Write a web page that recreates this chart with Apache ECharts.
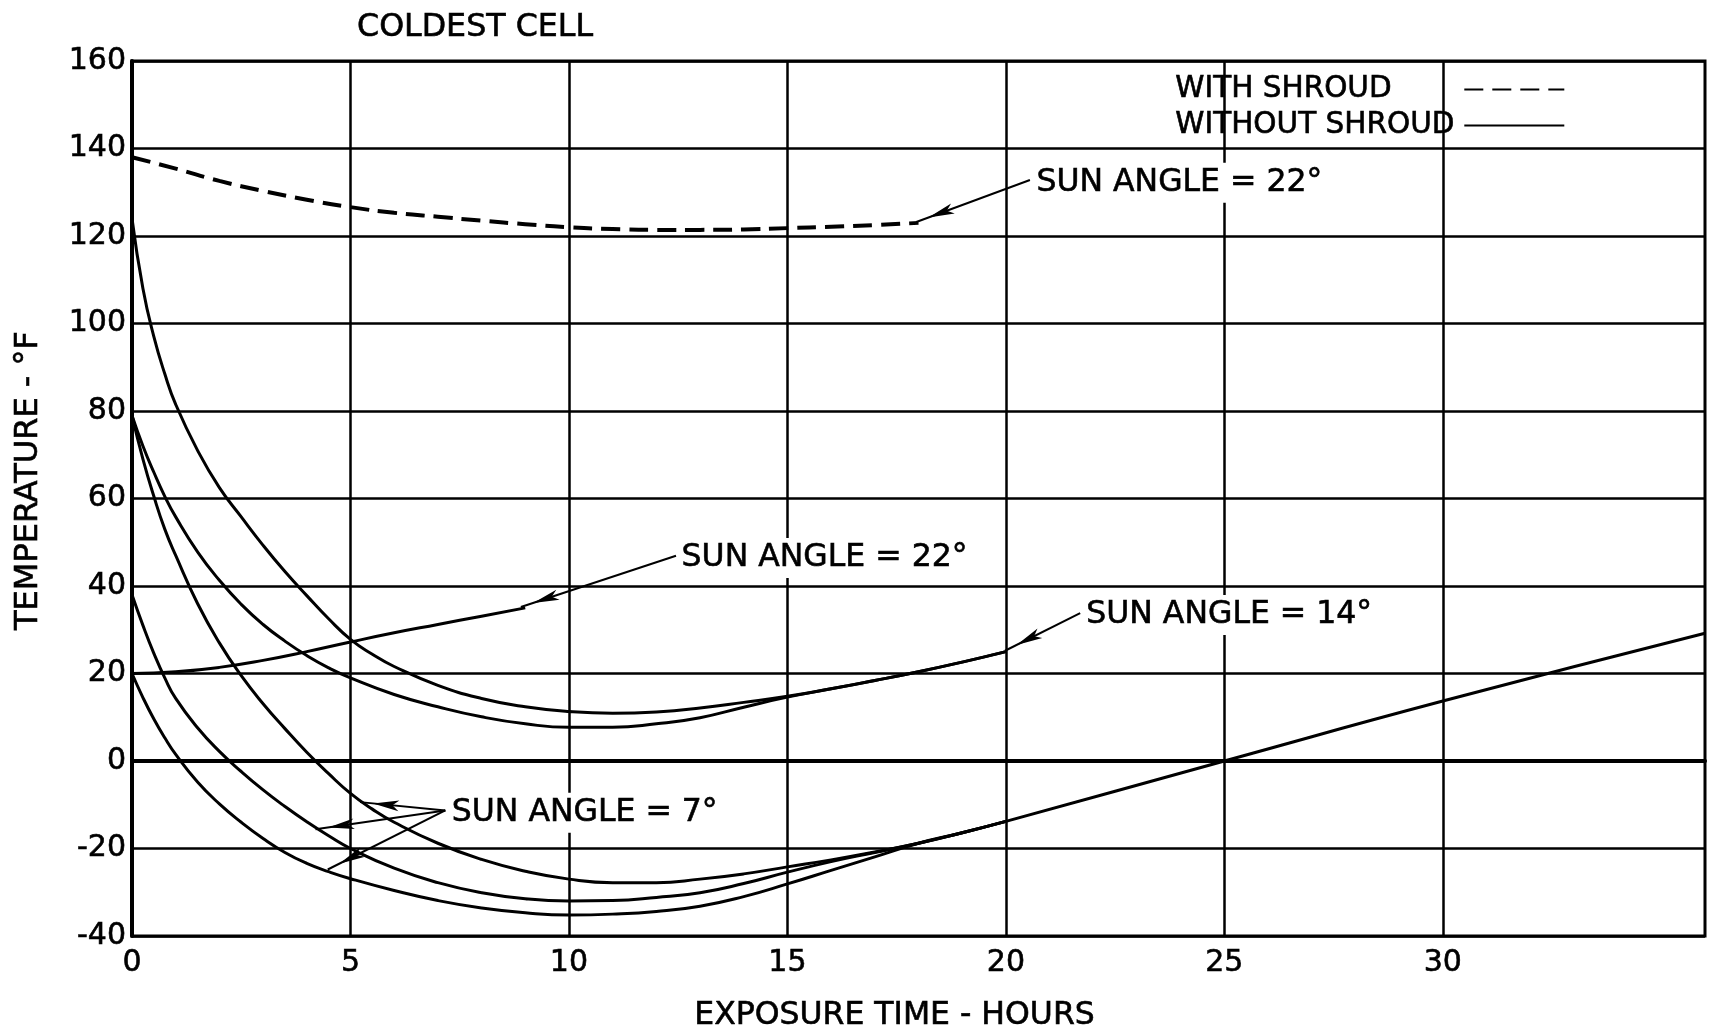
<!DOCTYPE html>
<html>
<head>
<meta charset="utf-8">
<script src="https://cdn.jsdelivr.net/npm/echarts@6.0.0/dist/echarts.min.js"></script>
<style>
  html, body { margin: 0; padding: 0; background: #fff; }
  #chart { width: 1712px; height: 1033px; }
</style>
</head>
<body>
<div id="chart"></div>
<script>
const FONT = 'DejaVu Sans';
// a hairline outline gives the lettering a slightly heavier pen weight
const INK = { color: '#000', textBorderColor: '#000', textBorderWidth: 0.6 };

// Axis ticks (hours) that get a label and a vertical rule
const xTicks = [0, 5, 10, 15, 20, 25, 30];

// Coldest-cell temperature curves: [exposure time (h), temperature (°F)]
const withShroud22 = [[0,138],[1,135.4],[2,132.6],[3,130.3],[4,128.3],[5,126.6],[6,125.3],[7,124.4],[8,123.5],[9,122.7],[10,122.0],[11,121.6],[12,121.4],[13,121.4],[14,121.5],[15,121.8],[16,122.1],[17,122.5],[18,123.0]];

const noShroud22 = [[0,20],[1,20.4],[2,21.4],[3,23.0],[4,25.0],[5,27.2],[6,29.3],[7,31.2],[8,33.1],[9,35.0]];

const noShroud14a = [[0,124],[0.25,108],[0.5,97],[0.75,88.5],[1,81.5],[1.5,71],[2,62.5],[2.5,55.8],[3,49.3],[3.5,43.3],[4,37.8],[4.5,32.5],[5,27.8],[5.5,24.4],[6,21.6],[7,17.3],[8,14.3],[9,12.4],[10,11.3],[11,10.9],[12,11.2],[13,12.1],[14,13.4],[15,14.8],[16,16.5],[17,18.4],[18,20.4],[19,22.6],[20,25]];

const noShroud14b = [[0,79],[0.25,72],[0.5,66],[0.75,60.5],[1,55.8],[1.5,47.8],[2,41.3],[2.5,35.8],[3,31.2],[3.5,27.4],[4,24.1],[4.5,21.3],[5,19.0],[6,15.2],[7,12.4],[8,10.1],[9,8.5],[10,7.7],[11,7.7],[12,8.5],[13,9.9],[14,12.3],[15,14.6],[16,16.5],[17,18.4],[18,20.4],[19,22.6],[20,25]];

const noShroud7a = [[0,79],[0.25,69],[0.5,60.5],[0.75,53],[1,47],[1.5,36],[2,27],[2.5,19.5],[3,13.1],[3.5,7.4],[4,2.0],[4.5,-2.9],[5,-7.4],[5.5,-11],[6,-14],[7,-18.8],[8,-22.5],[9,-25.2],[10,-27.0],[11,-27.8],[12,-27.8],[13,-27.0],[14,-25.8],[15,-24.2],[16,-22.6],[17,-20.8],[18,-18.8],[19,-16.4],[20,-13.8]];

const noShroud7b = [[0,38],[0.25,31],[0.5,24.6],[0.75,19],[1,14.3],[1.5,7.6],[2,2.2],[2.5,-2.4],[3,-6.6],[3.5,-10.4],[4,-13.9],[4.5,-17.1],[5,-20.0],[6,-24.5],[7,-27.8],[8,-30.1],[9,-31.5],[10,-32.0],[11,-31.9],[12,-31.2],[13,-30.1],[14,-28.0],[15,-25.4],[16,-23.0],[17,-20.9],[18,-18.8],[19,-16.4],[20,-13.8]];

const noShroud7c = [[0,20],[0.25,14.5],[0.5,9.6],[0.75,5.3],[1,1.5],[1.5,-4.8],[2,-9.8],[2.5,-14.0],[3,-17.7],[3.5,-20.9],[4,-23.4],[4.5,-25.3],[5,-26.9],[6,-29.6],[7,-31.9],[8,-33.6],[9,-34.7],[10,-35.2],[11,-35.0],[12,-34.4],[13,-33.2],[14,-31.0],[15,-28.1],[16,-25.0],[17,-21.9],[18,-18.8],[19,-16.4],[20,-13.8],[25,0],[30,13.7],[36,29.2]];

// Callout texts, anchored at their left edge in data space
const notes = [
  { text: 'SUN ANGLE = 22°', at: [20.63, 132.2] },
  { text: 'SUN ANGLE = 22°', at: [12.51, 46.4] },
  { text: 'SUN ANGLE = 14°', at: [21.77, 33.4] },
  { text: 'SUN ANGLE = 7°',  at: [7.25, -11.8] }
];

// Leader arrows from a callout to its curve
const pointers = [
  { from: [20.55, 132.8], to: [17.95, 123.2] },
  { from: [12.45, 46.9],  to: [8.9, 35.2] },
  { from: [21.7, 33.8],   to: [19.98, 25.2] },
  { from: [7.17, -11.3],  to: [5.22, -9.4] },
  { from: [7.17, -11.3],  to: [4.2, -15.6] },
  { from: [7.17, -11.3],  to: [4.48, -24.8] }
];

const SHROUD = 'WITH SHROUD';
const BARE = 'WITHOUT SHROUD';

function curve(name, data, dashed) {
  return {
    type: 'line',
    name: name,
    data: data,
    symbol: 'none',
    smooth: 0.5,
    silent: true,
    z: 3,
    itemStyle: { color: '#000' },
    lineStyle: dashed
      ? { color: '#000', width: 4, type: [19, 9] }
      : { color: '#000', width: 3 },
    emphasis: { disabled: true }
  };
}

const chart = echarts.init(document.getElementById('chart'), null, { renderer: 'canvas' });

chart.setOption({
  animation: false,
  backgroundColor: '#fff',
  textStyle: { fontFamily: FONT, color: '#000' },
  title: {
    text: 'COLDEST CELL',
    left: 357,
    top: 12,
    padding: 0,
    textStyle: Object.assign({ fontFamily: FONT, fontSize: 31.7, fontWeight: 'normal' }, INK)
  },
  legend: {
    data: [SHROUD, BARE],
    orient: 'vertical',
    align: 'right',
    left: 1171,
    top: 72,
    padding: [2, 4],
    itemGap: 5,
    itemWidth: 100,
    itemHeight: 10,
    selectedMode: false,
    backgroundColor: '#fff',
    itemStyle: { opacity: 0 },
    formatter: name => '{t|' + name + '}',
    textStyle: Object.assign({
      fontFamily: FONT, fontSize: 29.5, lineHeight: 31,
      rich: { t: Object.assign({ width: 284, align: 'left', fontFamily: FONT, fontSize: 29.5, lineHeight: 31 }, INK) }
    }, INK)
  },
  grid: {
    left: 132,
    top: 61,
    width: 1573,
    height: 875,
    show: true,
    borderColor: '#000',
    borderWidth: 3,
    outerBoundsMode: 'none'
  },
  xAxis: {
    type: 'value',
    min: 0,
    max: 36,
    interval: 5,
    name: 'EXPOSURE TIME - HOURS',
    nameLocation: 'middle',
    nameGap: 64,
    nameTextStyle: Object.assign({ fontFamily: FONT, fontSize: 31.5, padding: [0, 48, 0, 0] }, INK),
    axisLine: { show: true, lineStyle: { color: '#000', width: 4 } },
    axisTick: { show: false },
    splitLine: { show: false },
    axisLabel: Object.assign({
      margin: 12,
      fontFamily: FONT,
      fontSize: 30,
      formatter: v => (xTicks.indexOf(v) >= 0 ? String(v) : '')
    }, INK)
  },
  yAxis: {
    type: 'value',
    min: -40,
    max: 160,
    interval: 20,
    name: 'TEMPERATURE - °F',
    nameLocation: 'middle',
    nameGap: 87,
    nameTextStyle: Object.assign({ fontFamily: FONT, fontSize: 32, padding: [0, 0, 0, 36] }, INK),
    axisLine: { show: true, lineStyle: { color: '#000', width: 4 } },
    axisTick: { show: false },
    splitLine: { show: true, lineStyle: { color: '#000', width: 2.5 } },
    axisLabel: Object.assign({ margin: 6, fontFamily: FONT, fontSize: 30 }, INK)
  },
  series: [
    // vertical rules at the labelled hours
    {
      type: 'line',
      name: 'hour rules',
      data: [],
      silent: true,
      z: 1,
      markLine: {
        silent: true,
        animation: false,
        symbol: ['none', 'none'],
        label: { show: false },
        lineStyle: { color: '#000', width: 2.5, type: 'solid' },
        emphasis: { disabled: true },
        data: xTicks.filter(v => v > 0).map(v => ({ xAxis: v }))
      }
    },
    curve(SHROUD, withShroud22, true),
    curve(BARE, noShroud22),
    curve(BARE, noShroud14a),
    curve(BARE, noShroud14b),
    curve(BARE, noShroud7a),
    curve(BARE, noShroud7b),
    curve(BARE, noShroud7c),
    // callouts and their leader arrows
    {
      type: 'scatter',
      name: 'callouts',
      symbolSize: 0,
      silent: true,
      z: 6,
      itemStyle: { color: '#000', opacity: 1 },
      data: notes.map(n => ({ name: n.text, value: n.at })),
      label: Object.assign({
        show: true,
        position: 'right',
        distance: 0,
        formatter: '{b}',
        fontFamily: FONT,
        fontSize: 31.5,
        opacity: 1,
        textShadowBlur: 0,
        backgroundColor: '#fff',
        padding: [4, 3]
      }, INK),
      emphasis: { disabled: true },
      markLine: {
        silent: true,
        animation: false,
        z: 5,
        label: { show: false },
        lineStyle: { color: '#000', width: 2, type: 'solid', opacity: 1 },
        emphasis: { disabled: true },
        data: pointers.map(p => [
          { coord: p.from, symbol: 'none' },
          { coord: p.to, symbol: 'arrow', symbolSize: [8, 26], symbolOffset: [0, 13] }
        ])
      }
    }
  ]
});
</script>
</body>
</html>
